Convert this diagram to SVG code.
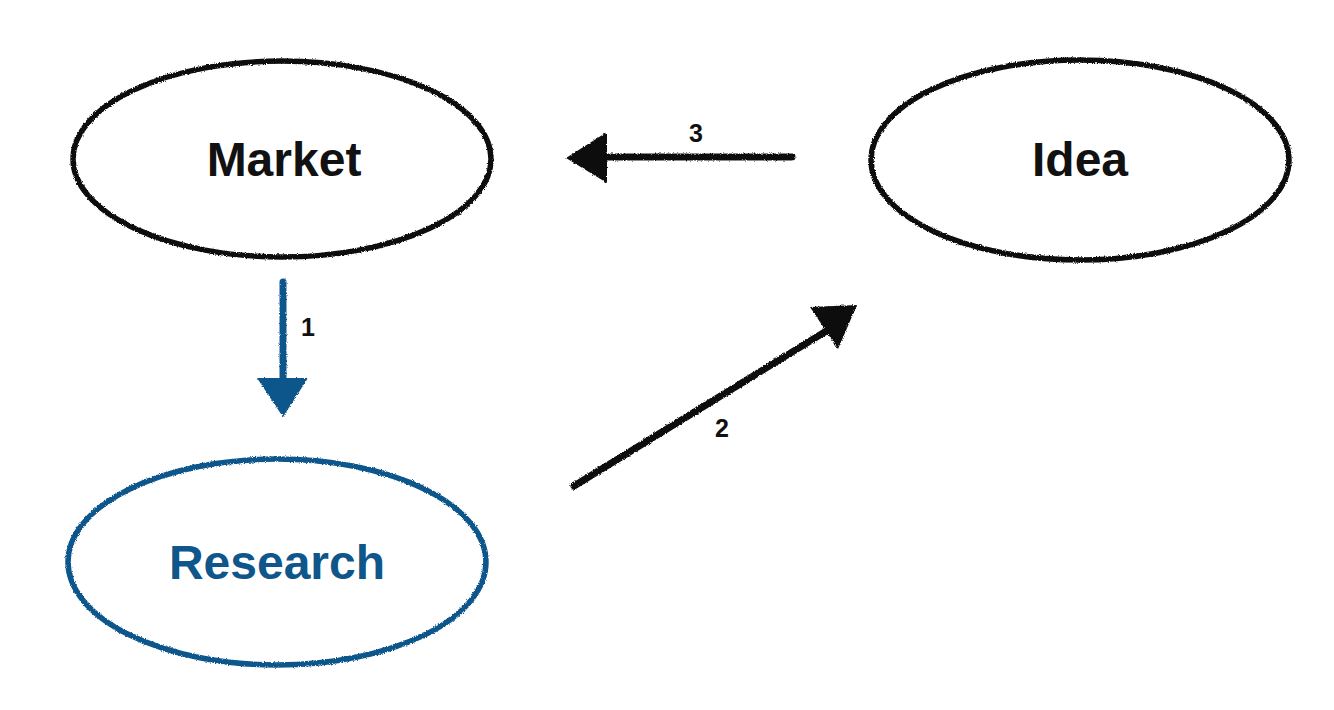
<svg xmlns="http://www.w3.org/2000/svg" width="1334" height="710" viewBox="0 0 1334 710">
<defs>
<filter id="rough" filterUnits="userSpaceOnUse" x="0" y="0" width="1334" height="710">
<feTurbulence type="fractalNoise" baseFrequency="0.9" numOctaves="2" seed="3" result="n"/>
<feDisplacementMap in="SourceGraphic" in2="n" scale="3" xChannelSelector="R" yChannelSelector="G"/>
</filter>
</defs>
<style>
.node{fill:none;stroke-width:5.5;filter:url(#rough)}
.blk{stroke:#111111}
.blu{stroke:#0f568b}
.lbl{font-family:"Liberation Sans",Arial,Helvetica,sans-serif;font-weight:bold;font-size:48px;text-anchor:middle}
.num{font-family:"Liberation Sans",Arial,Helvetica,sans-serif;font-weight:bold;font-size:25px;text-anchor:middle;fill:#111111}
.line{fill:none;stroke-width:7;stroke-linecap:round;filter:url(#rough)}
.head{filter:url(#rough)}
</style>
<rect width="1334" height="710" fill="#ffffff"/>
<g id="market">
<ellipse class="node blk" cx="282" cy="159" rx="209" ry="98"/>
<text class="lbl" x="284" y="176" fill="#111111">Market</text>
</g>
<g id="idea">
<ellipse class="node blk" cx="1080" cy="160" rx="209" ry="100"/>
<text class="lbl" x="1080" y="176" fill="#111111">Idea</text>
</g>
<g id="research">
<ellipse class="node blu" cx="277" cy="562" rx="209" ry="103"/>
<text class="lbl" x="277" y="579" fill="#0f568b">Research</text>
</g>
<g id="connectors">
<g id="edge1">
<line class="line" x1="283" y1="282" x2="283" y2="380" stroke="#0f568b"/>
<polygon class="head" points="257,378 308,378 283,417" fill="#0f568b"/>
<text class="num" x="308" y="336">1</text>
</g>
<g id="edge2">
<line class="line" x1="574" y1="486" x2="828" y2="330" stroke="#111111"/>
<polygon class="head" points="810,307 857,305 838,349" fill="#111111"/>
<text class="num" x="722" y="437">2</text>
</g>
<g id="edge3">
<line class="line" x1="792" y1="157" x2="600" y2="157" stroke="#111111"/>
<polygon class="head" points="607,132 607,183 566,158" fill="#111111"/>
<text class="num" x="696" y="142">3</text>
</g>
</g>
</svg>
